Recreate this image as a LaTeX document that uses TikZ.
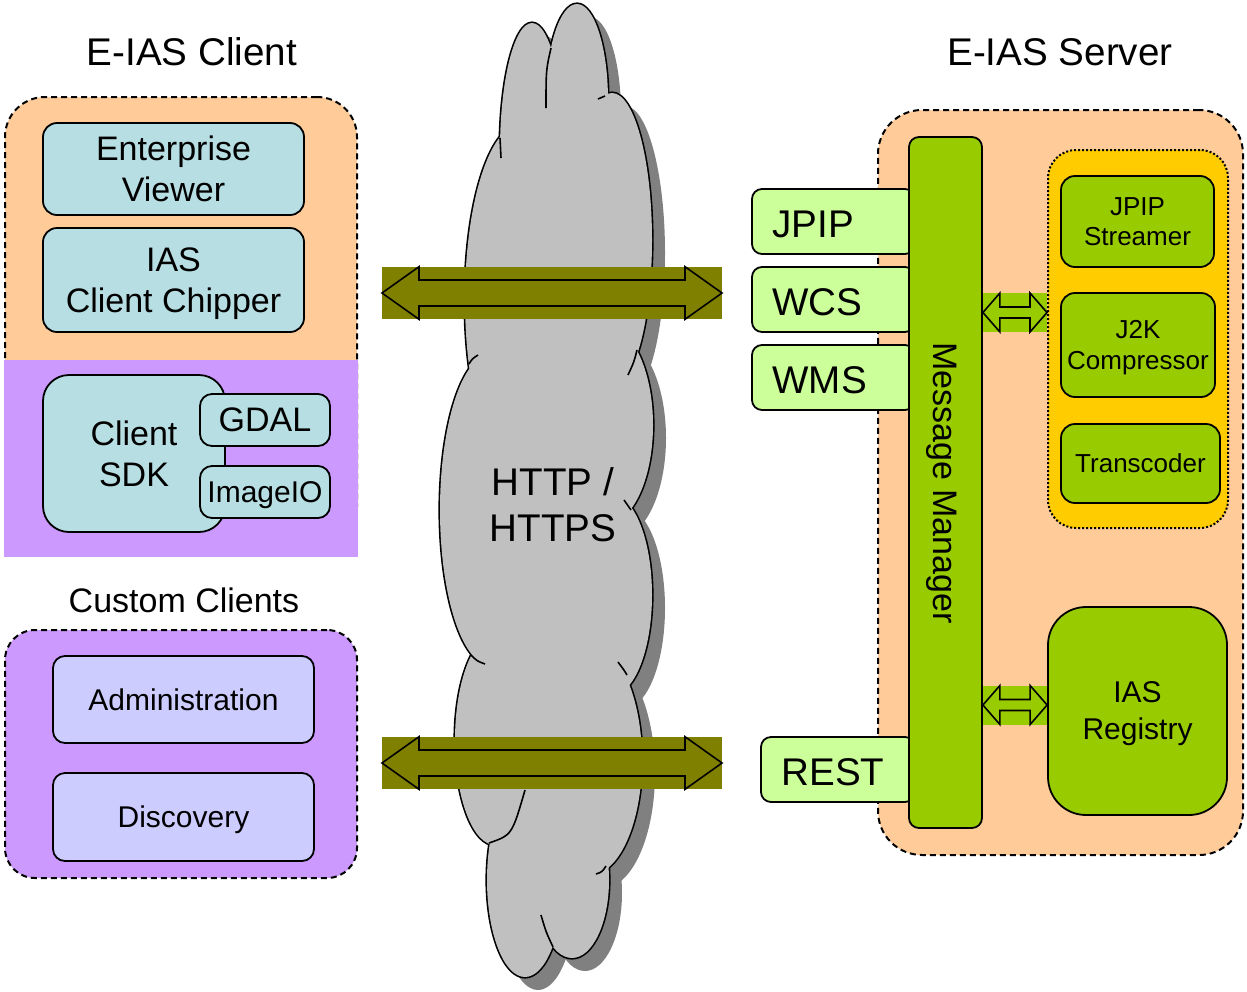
\documentclass[tikz,border=0pt]{standalone}
\usepackage{fontspec}
\setmainfont{Liberation Sans}
\usetikzlibrary{calc}
\definecolor{orangebg}{RGB}{255,204,153}
\definecolor{purplebg}{RGB}{204,153,255}
\definecolor{aquabox}{RGB}{183,222,226}
\definecolor{lavbox}{RGB}{204,204,255}
\definecolor{olivearr}{RGB}{128,128,0}
\definecolor{greenbox}{RGB}{153,204,0}
\definecolor{lgreen}{RGB}{204,255,153}
\definecolor{goldbox}{RGB}{255,204,0}
\definecolor{cloudgray}{RGB}{192,192,192}
\definecolor{cloudshadow}{RGB}{128,128,128}
\newcommand{\fntA}{\fontsize{19.3}{23}\selectfont}
\newcommand{\fntB}{\fontsize{17}{20.5}\selectfont}
\newcommand{\fntC}{\fontsize{15}{18.5}\selectfont}
\newcommand{\fntD}{\fontsize{13}{15.5}\selectfont}
\newcommand{\rbox}[7]{%
  \pgfmathsetmacro{\rbW}{(#5-#3)*0.5}%
  \pgfmathsetmacro{\rbH}{(#6-#4)*0.5}%
  \node[#2, minimum width=\rbW pt, minimum height=\rbH pt] (#1) at ({(#3+#5)/2},{(#4+#6)/2}) {#7};}
\newcommand{\dblarrow}[6]{%
  \fill[#6] ($(#1)+(0,-#3)$) rectangle ($(#2)+(0,#3)$);
  \draw[line width=0.8pt, fill=#6, line join=miter] (#1) -- ++(#5,-#3) -- ++(0,{#3-#4})
    -- ($(#2)+(-#5,-#4)$) -- ++(0,{#4-#3}) -- (#2) -- ++(-#5,#3) -- ++(0,{#4-#3})
    -- ($(#1)+(#5,#4)$) -- ++(0,{#3-#4}) -- cycle;}
\tikzset{
  outl/.style={draw=black, line width=0.9pt, inner sep=0pt, align=center},
  grp/.style={outl, line width=1pt, dash pattern=on 3pt off 2pt},
  aquab/.style={outl, fill=aquabox, rounded corners=7pt, font=\fntB},
  lavb/.style={outl, fill=lavbox, rounded corners=6pt, font=\fntC},
  greenb/.style={outl, fill=greenbox, rounded corners=7pt, font=\fntD},
  protob/.style={outl, fill=lgreen, rounded corners=5pt},
  ttl/.style={font=\fntA, anchor=base, inner sep=0pt},
  protot/.style={font=\fntA, anchor=base west, inner sep=0pt},
}
\begin{document}
\begin{tikzpicture}[x=0.5pt,y=-0.5pt]
\useasboundingbox (0,0) rectangle (1247,991);

% ---------------- client side
\node[ttl] (ctitle) at (192,65) {E-IAS Client};
\rbox{clientgrp}{grp, fill=orangebg, rounded corners=20pt}{5}{97}{357}{547}{}
\rbox{sdkband}{fill=purplebg, inner sep=0pt}{4}{360}{358}{557}{}
\rbox{ev}{aquab}{43}{123}{304}{215}{Enterprise\\Viewer}
\rbox{icc}{aquab, text depth=0pt}{43}{228}{304}{332}{IAS\\Client Chipper}
\rbox{sdk}{aquab, rounded corners=13pt}{43}{375}{225}{532}{Client\\SDK}
\rbox{gdal}{aquab, rounded corners=6pt}{200}{394}{330}{446}{GDAL}
\rbox{imageio}{aquab, rounded corners=6pt, font=\fntC, text depth=0pt}{200}{466}{330}{518}{ImageIO}

\node[ttl, font=\fntB] (cctitle) at (184,612) {Custom Clients};
\rbox{customgrp}{grp, fill=purplebg, rounded corners=15pt}{5}{630}{357}{878}{}
\rbox{admin}{lavb}{53}{656}{314}{743}{Administration}
\rbox{disc}{lavb, text depth=0pt}{53}{773}{314}{861}{Discovery}

% ---------------- cloud
\def\lobes{532/150/32/127, 577/100/31/96, 612/240/40/147, 520/300/55/175,
  490/510/50/155, 605/425/48/100, 612/595/40/100, 590/760/52/115,
  572/880/37/78, 525/880/38/97, 495/740/40/105, 555/490/70/400}
\foreach \cx/\cy/\rx/\ry in \lobes
  \fill[cloudshadow] (\cx+13,\cy+13) ellipse [x radius=\rx, y radius=\ry];
\foreach \cx/\cy/\rx/\ry in \lobes
  \draw[line width=1.6pt] (\cx,\cy) ellipse [x radius=\rx, y radius=\ry];
\foreach \cx/\cy/\rx/\ry in \lobes
  \fill[cloudgray] (\cx,\cy) ellipse [x radius=\rx, y radius=\ry];
\begin{scope}[line width=0.8pt]
  \draw (500,138) .. controls (500,148) .. (501,158);
  \draw (551,48) .. controls (546,70) .. (546,108);
  \draw (605,96) .. controls (602,97) .. (598,99);
  \draw (637,350) .. controls (634,362) .. (628,375);
  \draw (631,510) .. controls (628,505) .. (624,500);
  \draw (627,675) .. controls (624,670) .. (618,662);
  \draw (606,866) .. controls (602,872) .. (596,874);
  \draw (553,947) .. controls (546,932) .. (541,915);
  \draw (489,843) .. controls (512,835) .. (525,790);
  \draw (471,655) .. controls (477,661) .. (485,664);
  \draw (469,364) .. controls (472,359) .. (478,355);
\end{scope}
\node[font=\fntA, align=center, inner sep=0pt, execute at begin node={\baselineskip=23pt}] (http) at (553,505) {HTTP /\\HTTPS};

% ---------------- server side
\node[ttl] (stitle) at (1060,65) {E-IAS Server};
\rbox{servergrp}{grp, fill=orangebg, rounded corners=22pt}{878}{110}{1243}{855}{}
\rbox{gold}{outl, line width=1pt, densely dotted, fill=goldbox, rounded corners=14pt}{1048}{150}{1228}{528}{}
\rbox{jpips}{greenb, execute at begin node={\baselineskip=15pt}}{1061}{176}{1214}{267}{JPIP\\Streamer}
\rbox{j2k}{greenb, text depth=0pt}{1061}{293}{1215}{397}{J2K\\Compressor}
\rbox{trans}{greenb}{1061}{424}{1220}{503}{Transcoder}
\rbox{reg}{greenb, rounded corners=19pt, font=\fntC, text depth=0pt}{1048}{607}{1227}{815}{IAS\\Registry}

\rbox{jpip}{protob}{752}{189}{915}{254}{}
\rbox{wcs}{protob}{752}{267}{915}{332}{}
\rbox{wms}{protob}{752}{345}{915}{410}{}
\rbox{rest}{protob}{761}{737}{915}{802}{}
\node[protot] (jpipt) at (772,237) {JPIP};
\node[protot] (wcst) at (772,315) {WCS};
\node[protot] (wmst) at (772,393) {WMS};
\node[protot] (restt) at (781,785) {REST};

\rbox{mm}{outl, fill=greenbox, rounded corners=5pt}{909}{137}{982}{828}{}
\node[font=\fntB, rotate=-90, inner sep=0pt] (mmtxt) at (942,483) {Message Manager};

% ---------------- connectors
\coordinate (s1y) at (0,312.5);
\coordinate (s2y) at (0,705);
\coordinate (s1l) at (mm.east |- s1y);
\coordinate (s1r) at (gold.west |- s1y);
\coordinate (s2l) at (mm.east |- s2y);
\coordinate (s2r) at (reg.west |- s2y);
\dblarrow{s1l}{s1r}{19.5}{5.5}{17}{greenbox}
\dblarrow{s2l}{s2r}{19.5}{5.5}{17}{greenbox}

\coordinate (a1l) at (382,293);
\coordinate (a1r) at (722,293);
\coordinate (a2l) at (382,763);
\coordinate (a2r) at (722,763);
\dblarrow{a1l}{a1r}{26.3}{13}{37}{olivearr}
\dblarrow{a2l}{a2r}{26.3}{13}{37}{olivearr}
\end{tikzpicture}
\end{document}
